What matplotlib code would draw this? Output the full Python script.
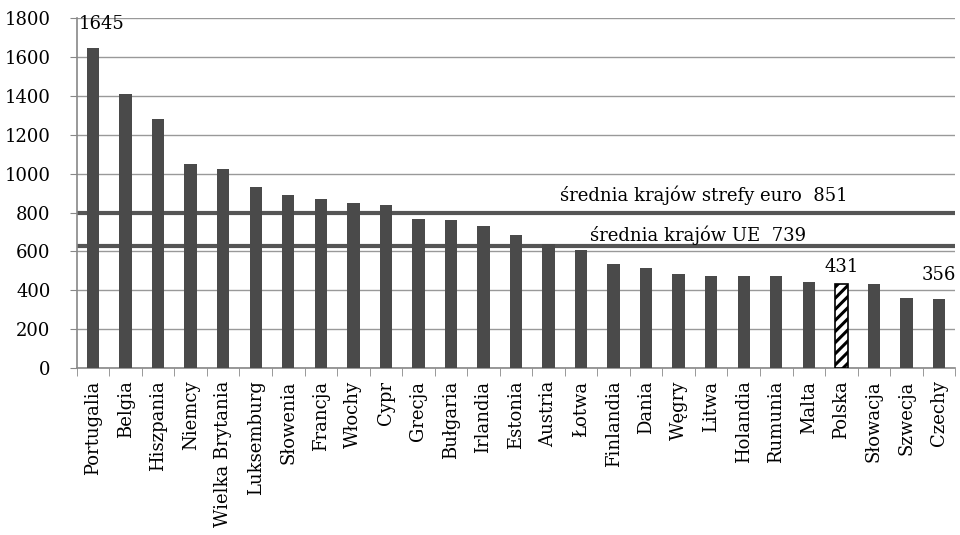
import numpy as np
import matplotlib
matplotlib.use('Agg')
import matplotlib.pyplot as plt

plt.rcParams['font.family'] = ['DejaVu Serif']
plt.rcParams['hatch.linewidth'] = 2.2

countries = ['Portugalia', 'Belgia', 'Hiszpania', 'Niemcy', 'Wielka Brytania',
             'Luksemburg', 'Słowenia', 'Francja', 'Włochy', 'Cypr', 'Grecja',
             'Bułgaria', 'Irlandia', 'Estonia', 'Austria', 'Łotwa', 'Finlandia',
             'Dania', 'Węgry', 'Litwa', 'Holandia', 'Rumunia', 'Malta', 'Polska',
             'Słowacja', 'Szwecja', 'Czechy']
values = [1645, 1412, 1280, 1050, 1024, 931, 890, 869, 848, 838, 765, 760,
          729, 683, 636, 610, 538, 517, 486, 476, 476, 476, 445, 431, 434,
          363, 356]
highlight = 'Polska'
labelled = {'Portugalia': 1645, 'Polska': 431, 'Czechy': 356}

# średnie (etykieta i poziom linii, jak na oryginale)
euro_avg, euro_line = 851, 797
ue_avg, ue_line = 739, 628
yticks = list(range(0, 1801, 200))

fig = plt.figure(figsize=(9.6, 5.35), dpi=100)
ax = fig.add_axes([0.080, 0.312, 0.915, 0.654])

x = np.arange(len(countries))
colors = ['white' if c == highlight else '#4a4a4a' for c in countries]
bars = ax.bar(x, values, width=0.38, color=colors, zorder=3)
i = countries.index(highlight)
bars[i].set_hatch('///')
bars[i].set_edgecolor('black')
bars[i].set_linewidth(1.2)

ax.axhline(euro_line, color='#555555', lw=3, zorder=2)
ax.axhline(ue_line, color='#555555', lw=3, zorder=2)
ax.text(18.76, 891, f'średnia krajów strefy euro  {euro_avg}', ha='center', va='center', fontsize=13)
ax.text(18.6, 685, f'średnia krajów UE  {ue_avg}', ha='center', va='center', fontsize=13)

offsets = {'Portugalia': (0.25, 1772), 'Polska': (0, 520), 'Czechy': (0, 479)}
for name, v in labelled.items():
    px, py = offsets[name]
    ax.text(countries.index(name) + px, py, str(v), ha='center', va='center', fontsize=13)

ax.set_xlim(-0.5, len(countries) - 0.5)
ax.set_ylim(0, 1800)
ax.set_yticks(yticks)
ax.yaxis.grid(True, color='#999999', lw=1, zorder=0)
ax.tick_params(axis='y', labelsize=13, length=5, color='#888888', pad=14)

ax.set_xticks(x)
ax.set_xticklabels(countries, rotation=90, fontsize=13)
ax.tick_params(axis='x', length=0, pad=9)
ax.set_xticks(np.arange(-0.5, len(countries)), minor=True)
ax.tick_params(axis='x', which='minor', length=6, color='#888888')

for s in ['top', 'right']:
    ax.spines[s].set_visible(False)
for s in ['left', 'bottom']:
    ax.spines[s].set_color('#888888')
    ax.spines[s].set_linewidth(1.2)

fig.savefig('out.png', dpi=100)
